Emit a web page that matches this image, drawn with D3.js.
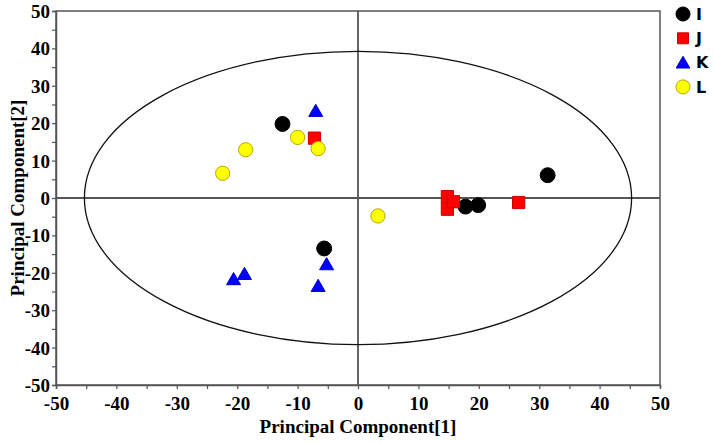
<!DOCTYPE html>
<html><head><meta charset="utf-8">
<script src="https://cdn.jsdelivr.net/npm/d3@7"></script>
<style>body{margin:0;background:#fff}</style>
</head><body>
<svg id="c" width="714" height="443"></svg>
<script>
const groups = ["I","J","K","L"];
const seriesI = [[-12.5,19.8],[-5.6,-13.5],[17.8,-2.3],[19.9,-1.9],[31.4,6.1]];
const seriesJ = [[-7.2,16.0],[14.8,0.35],[14.8,-3.0],[15.8,-1.0],[26.6,-1.2]];
const seriesK = [[-7.0,23.3],[-5.2,-17.7],[-6.6,-23.5],[-18.8,-20.3],[-20.6,-21.7]];
const seriesL = [[-10.0,16.2],[-6.6,13.2],[-18.6,12.9],[-22.4,6.6],[3.3,-4.8]];
const ellipseRadii = [45.3, 39.2];
const xTicks = [-50,-40,-30,-20,-10,0,10,20,30,40,50];
const yTicks = [-50,-40,-30,-20,-10,0,10,20,30,40,50];

const svg = d3.select("#c");
const L=56, R=660, T=11, B=385;
const x = d3.scaleLinear().domain([-50,50]).range([L,R]);
const y = d3.scaleLinear().domain([-50,50]).range([B,T]);
const axisColor = "#555";
const serif = "'Liberation Serif','Times New Roman',serif";

// frame
svg.append("rect").attr("x",L).attr("y",T).attr("width",R-L).attr("height",B-T)
  .attr("fill","none").attr("stroke",axisColor).attr("stroke-width",1.5);

// axes
const minor = d3.range(-50,51,5);
const xAxis = d3.axisBottom(x).tickValues(minor).tickSize(4)
  .tickFormat(d => xTicks.includes(d) ? d : "");
const gx = svg.append("g").attr("transform",`translate(0,${B})`).call(xAxis);
const yAxis = d3.axisLeft(y).tickValues(minor).tickSize(4)
  .tickFormat(d => yTicks.includes(d) ? d : "");
const gy = svg.append("g").attr("transform",`translate(${L},0)`).call(yAxis);
[gx,gy].forEach(g=>{
  g.select(".domain").attr("stroke",axisColor).attr("stroke-width",1.5);
  g.selectAll(".tick line").attr("stroke",axisColor).attr("stroke-width",1.2);
  g.selectAll("text").attr("font-family",serif).attr("font-weight","bold")
    .attr("font-size",19).attr("fill","#000");
});
gx.selectAll("text").attr("dy","0.95em").attr("y",7);
gy.selectAll("text").attr("x",-6).attr("dy","0.34em");

// zero lines
svg.append("line").attr("x1",x(0)).attr("x2",x(0)).attr("y1",T).attr("y2",B)
  .attr("stroke",axisColor).attr("stroke-width",1.8);
svg.append("line").attr("x1",L).attr("x2",R).attr("y1",y(0)).attr("y2",y(0))
  .attr("stroke",axisColor).attr("stroke-width",1.8);

// ellipse
svg.append("ellipse").attr("cx",x(0)).attr("cy",y(0))
  .attr("rx",x(ellipseRadii[0])-x(0)).attr("ry",y(0)-y(ellipseRadii[1]))
  .attr("fill","none").attr("stroke","#111").attr("stroke-width",1.3);

// titles
svg.append("text").attr("x",x(0)).attr("y",433).attr("text-anchor","middle")
  .attr("font-family",serif).attr("font-weight","bold").attr("font-size",19)
  .text("Principal Component[1]");
svg.append("text").attr("transform",`translate(24,${y(0)}) rotate(-90)`)
  .attr("text-anchor","middle")
  .attr("font-family",serif).attr("font-weight","bold").attr("font-size",19)
  .text("Principal Component[2]");

// markers
const styles = {
  I:{sym:d3.symbolCircle, size:175, fill:"#000", stroke:"#000"},
  J:{sym:d3.symbolSquare, size:150, fill:"#ff0000", stroke:"#cc0000"},
  K:{sym:d3.symbolTriangle, size:85, fill:"#0000ff", stroke:"#0000cc"},
  L:{sym:d3.symbolCircle, size:160, fill:"#ffff00", stroke:"#b3a800"}
};
const data = {I:seriesI, J:seriesJ, K:seriesK, L:seriesL};
groups.forEach(g=>{
  const s = styles[g];
  svg.append("g").selectAll("path").data(data[g]).join("path")
    .attr("transform",d=>`translate(${x(d[0])},${y(d[1]) + (g==="K"?1.5:0)})`)
    .attr("d",d3.symbol().type(s.sym).size(s.size))
    .attr("fill",s.fill).attr("stroke",s.stroke).attr("stroke-width",1);
});

// legend
const leg = svg.append("g");
groups.forEach((g,i)=>{
  const s = styles[g];
  const cy = 14 + i*24.3;
  leg.append("path").attr("transform",`translate(683,${cy + (g==="K"?1.5:0)})`)
    .attr("d",d3.symbol().type(s.sym).size(g==="K"?80:(g==="J"?120:155)))
    .attr("fill",s.fill).attr("stroke",s.stroke).attr("stroke-width",1);
  leg.append("text").attr("x",696).attr("y",cy).attr("dy","0.36em")
    .attr("font-family","'DejaVu Sans',sans-serif").attr("font-weight","bold")
    .attr("font-size",16).text(g);
});
</script>
</body></html>
